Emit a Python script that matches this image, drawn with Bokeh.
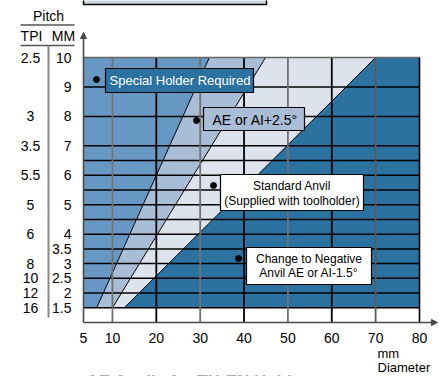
from bokeh.plotting import figure
from bokeh.models import Range1d, Arrow, NormalHead
from bokeh.core.properties import value
from bokeh.embed import file_html
from bokeh.resources import INLINE

# ---------------- data ----------------
zone_names = ["Special Holder Required", "AE or AI+2.5°",
              "Standard Anvil", "Change to Negative Anvil"]
# zone boundaries: diameter (mm) at the lowest pitch (1.5 mm) and at the highest pitch (10 mm)
boundary_at_low = [6.4, 10.0, 12.7]
boundary_at_high = [32.1, 44.9, 70.0]
pitch_low = 1.5
pitch_high = 10
diam_max = 80

x_tick_values = [5, 10, 20, 30, 40, 50, 60, 70, 80]
x_tick_labels = ["5", "10", "20", "30", "40", "50", "60", "70", "80"]

mm_ticks = [10, 9, 8, 7, 6, 5, 4, 3.5, 3, 2.5, 2, 1.5]
mm_labels = ["10", "9", "8", "7", "6", "5", "4", "3.5", "3", "2.5", "2", "1.5"]

tpi_at_mm = [10, 8, 7, 6, 5, 4, 3, 2.5, 2, 1.5]
tpi_labels = ["2.5", "3", "3.5", "5.5", "5", "6", "8", "10", "12", "16"]

grid_rows = [1.5, 2, 2.5, 3, 3.5, 4, 4.5, 5, 5.5, 6, 6.5, 7, 8, 9]
grid_cols = [10, 20, 30, 40, 50, 60, 70]

# ---------------- styles / layout ----------------
zone_colors = ["#6798c3", "#a9bdd6", "#dde3ec", "#2b72a0"]
col_colors = ["#727272", "black", "#727272", "black", "#727272", "black", "#5a5a5a"]
FONT = "Liberation Sans"
AX_COL = "#4a4a4a"
X_START = 3.4          # left edge of the (compressed) axis, labelled "5"
Y_MIN = 1.0
W, H = 440, 376
FRAME_L, FRAME_R, FRAME_T, FRAME_B = 83, 419, 57, 322   # plot area in pixels
KX = (diam_max - X_START) / (FRAME_R - FRAME_L)          # mm per pixel
KY = (pitch_high - Y_MIN) / (FRAME_B - FRAME_T)          # pitch per pixel


def px(x):   # horizontal page pixel -> data x
    return X_START + (x - FRAME_L) * KX


def py(y):   # vertical page pixel -> data y
    return Y_MIN + (FRAME_B - y) * KY


p = figure(width=W, height=H, x_range=Range1d(px(0), px(W)), y_range=Range1d(py(H), py(0)),
           output_backend="svg", toolbar_location=None, x_axis_type=None, y_axis_type=None,
           min_border=0)
p.outline_line_color = None
p.grid.visible = False
p.background_fill_color = "white"
p.border_fill_color = "white"

# zones
lo = [X_START] + boundary_at_low + [diam_max]
hi = [X_START] + boundary_at_high + [diam_max]
xs = [[lo[i], lo[i + 1], hi[i + 1], hi[i]] for i in range(4)]
ys = [[pitch_low, pitch_low, pitch_high, pitch_high] for _ in range(4)]
p.patches(xs, ys, fill_color=zone_colors, line_color=None)

# diagonal boundaries
p.segment(x0=boundary_at_low, y0=[pitch_low] * 3, x1=boundary_at_high, y1=[pitch_high] * 3,
          line_color="black", line_width=1)

# grid
p.segment(x0=[X_START] * len(grid_rows), x1=[diam_max] * len(grid_rows),
          y0=grid_rows, y1=grid_rows, line_color="black", line_width=1.5)
p.segment(x0=grid_cols, x1=grid_cols, y0=[Y_MIN] * len(grid_cols),
          y1=[pitch_high] * len(grid_cols), line_color=col_colors, line_width=1.8)
p.segment(x0=[X_START], x1=[diam_max], y0=[pitch_high], y1=[pitch_high],
          line_color="#666666", line_width=1.6)
p.segment(x0=[diam_max], x1=[diam_max], y0=[Y_MIN], y1=[pitch_high],
          line_color="black", line_width=1.6)

# label boxes
p.quad(left=[px(105), px(203), px(220), px(246)], right=[px(253), px(304), px(363), px(371)],
       top=[py(68), py(107), py(174), py(247)], bottom=[py(92), py(130), py(210), py(284)],
       fill_color=["#2b72a0", "#a9bdd6", "white", "white"], line_color="black",
       line_width=1.2)
p.text(x=[px(109)], y=[py(80)], text=[zone_names[0]], text_color="white",
       text_font=value(FONT), text_font_size="13px", text_baseline="middle",
       text_align="left")
p.text(x=[px(212)], y=[py(119)], text=[zone_names[1]], text_color="black",
       text_font=value(FONT), text_font_size="14px", text_baseline="middle",
       text_align="left")
p.text(x=[px(291.5)] * 2, y=[py(185), py(200)],
       text=[zone_names[2], "(Supplied with toolholder)"], text_color="black",
       text_font=value(FONT), text_font_size="12px", text_baseline="middle",
       text_align="center")
p.text(x=[px(308.5)] * 2, y=[py(258), py(272)],
       text=["Change to Negative", "Anvil AE or AI-1.5°"], text_color="black",
       text_font=value(FONT), text_font_size="12px", text_baseline="middle",
       text_align="center")
p.scatter(x=[px(96), px(196), px(213), px(238)], y=[py(79), py(120), py(185), py(258)],
          size=6, color="black")

# axes (drawn through the scales)
p.add_layout(Arrow(end=NormalHead(size=6, fill_color=AX_COL, line_color=AX_COL),
                   x_start=X_START, y_start=Y_MIN, x_end=px(437), y_end=Y_MIN,
                   line_color=AX_COL, line_width=1.6))
p.add_layout(Arrow(end=NormalHead(size=6, fill_color=AX_COL, line_color=AX_COL),
                   x_start=X_START, y_start=Y_MIN, x_end=X_START, y_end=py(32),
                   line_color=AX_COL, line_width=1.6))
x_tick_pos = [X_START if v == 5 else v for v in x_tick_values]
p.text(x=x_tick_pos, y=[py(337)] * len(x_tick_pos), text=x_tick_labels,
       text_font=value(FONT), text_font_size="14px", text_align="center",
       text_baseline="middle", text_color="black")
p.text(x=[px(71)] * len(mm_ticks), y=mm_ticks, text=mm_labels,
       text_font=value(FONT), text_font_size="14px", text_align="right",
       text_baseline="middle", text_color="black")
p.text(x=[px(30)] * len(tpi_labels), y=tpi_at_mm, text=tpi_labels,
       text_font=value(FONT), text_font_size="14px", text_align="center",
       text_baseline="middle", text_color="black")

# pitch table header
p.text(x=[px(48), px(31), px(63)], y=[py(15), py(35), py(35)], text=["Pitch", "TPI", "MM"],
       text_font=value(FONT), text_font_size="14px", text_align="center",
       text_baseline="middle", text_color="black")
p.segment(x0=[px(20)] * 2, x1=[px(74)] * 2, y0=[py(24.5), py(45)], y1=[py(24.5), py(45)],
          line_color="#555555", line_width=1.5)
p.segment(x0=[px(48)], x1=[px(48)], y0=[py(45)], y1=[py(317)],
          line_color="#888888", line_width=2)

# axis title
p.text(x=[px(377)] * 2, y=[py(353), py(367)], text=["mm", "Diameter"],
       text_font=value(FONT), text_font_size="13px", text_align="left",
       text_baseline="middle", text_color="black")

# cropped page context (box above, heading below)
p.quad(left=[X_START], right=[px(266)], bottom=[py(4)], top=[py(-3)],
       fill_color="#c8d9dd", line_color="black", line_width=1.5)
p.text(x=[px(86)], y=[py(371)], text=["AE Anvils for TH-EN Holders"],
       text_font=value(FONT), text_font_size="17px", text_font_style="bold",
       text_align="left", text_baseline="top", text_color="#a8a8a8")

open("out.html", "w").write(file_html(p, INLINE))
